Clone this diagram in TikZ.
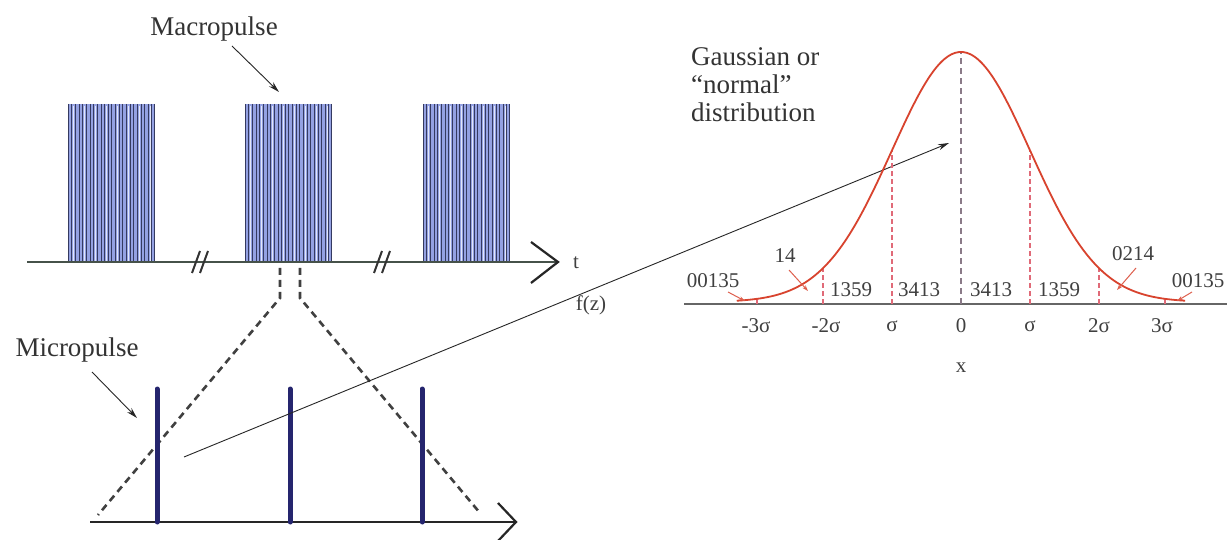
\documentclass[tikz,border=0pt]{standalone}
\usepackage{fontspec}
\setmainfont{Liberation Serif}
\usetikzlibrary{arrows.meta}
\definecolor{pulseblue}{HTML}{7082D8}
\definecolor{pulsedark}{HTML}{353A60}
\definecolor{axisgray}{HTML}{46524A}
\definecolor{microblue}{HTML}{25256E}
\definecolor{gausred}{HTML}{D8432E}
\definecolor{dashred}{HTML}{E06A78}
\definecolor{dashgray}{HTML}{8A7A88}
\tikzset{
  biglabel/.style={font=\fontsize{27}{28}\selectfont, inner sep=0pt, text=black!80},
  numlabel/.style={font=\fontsize{21}{22}\selectfont, inner sep=0pt, text=black!75},
  axisline/.style={line width=2.6pt, draw=axisgray},
  chevron/.style={line width=2.2pt, draw=black!85},
  pulsedash/.style={line width=2.6pt, draw=black!75, dash pattern=on 7pt off 5pt},
  micro/.style={line width=5pt, draw=microblue, line cap=round},
  pointer/.style={line width=0.9pt, draw=black!85, -{Stealth[length=11pt,width=6pt]}},
  redpointer/.style={line width=1pt, draw=gausred!85, -{Stealth[length=6pt,width=4pt]}},
  reddash/.style={line width=1.1pt, draw=dashred, dash pattern=on 5pt off 3pt},
  graydash/.style={line width=1.3pt, draw=dashgray, dash pattern=on 6pt off 4pt},
}
\begin{document}
\begin{tikzpicture}[x=1pt,y=-1pt]
\useasboundingbox (0,0) rectangle (1227,540);
\fill[white] (0,0) rectangle (1227,540);

% ---------- macropulse trains ----------
\foreach \xo in {68,245,423}{
  \fill[pulseblue!75] (\xo,104) rectangle (\xo+86,262);
  \foreach \d in {0,3.6,7.4,11,14.5,18.3,22,25.4,29.2,33,36.5,40,43.8,47.5,51,54.8,58.5,62,65.6,69.4,73,76.5,80.2,83.5,86}{
    \draw[pulsedark, line width=0.75pt] (\xo+\d,104) -- (\xo+\d,262);
  }
  \foreach \d in {5.5,16.4,27.3,38.2,49.3,60.3,71.2,82}{
    \draw[white!80!pulseblue, line width=0.7pt] (\xo+\d,106) -- (\xo+\d,262);
  }
}

% top time axis
\coordinate (tstart) at (27,262);
\coordinate (ttip) at (558,262);
\draw[axisline] (tstart) -- (ttip);
\draw[chevron] (531,242) -- (ttip) -- (531,283);
\node[numlabel] (tlab) at (576,263) {t};
% break marks
\foreach \bx in {196,204,378,386}{
  \draw[line width=2pt, draw=black!80] (\bx-4,273) -- (\bx+4,251);
}

% labels
\node[biglabel] (macro) at (214,29) {Macropulse};
\coordinate (macrotip) at (279,92);
\draw[pointer] (232,46) -- (macrotip);

% dashed zoom lines
\coordinate (dl0) at (280,268);
\coordinate (dl1) at (280,298);
\coordinate (dl2) at (98,515);
\coordinate (dr0) at (300,268);
\coordinate (dr1) at (300,298);
\coordinate (dr2) at (480,513);
\draw[pulsedash] (dl0) -- (dl1) -- (dl2);
\draw[pulsedash] (dr0) -- (dr1) -- (dr2);

% micro axis
\coordinate (mstart) at (90,522);
\coordinate (mtip) at (516,522);
\draw[line width=2.2pt, draw=black!85] (mstart) -- (mtip);
\draw[chevron] (498,503) -- (mtip) -- (498,541);

% micropulses
\foreach \mx in {157,290,422}{
  \draw[micro] (\mx,389) -- (\mx,522);
}

\node[biglabel] (microlab) at (77,350) {Micropulse};
\draw[pointer] (92,372) -- (137,418);

% long arrow
\coordinate (lstart) at (184,457);
\coordinate (lend) at (949,143);
\draw[pointer] (lstart) -- (lend);
\node[numlabel] (fz) at (591,305) {f(z)};

% ---------- Gaussian ----------
\node[biglabel, anchor=north west, align=left] (gauss) at (691,47)
  {Gaussian or\\``normal''\\distribution};

\draw[line width=1.6pt, draw=black!60] (684,304) -- (1227,304);

% dashed verticals
\draw[graydash] (961,304) -- (961,52);
\draw[reddash] (892,304) -- (892,150);
\draw[reddash] (1030,304) -- (1030,150);
\draw[reddash] (823,304) -- (823,268);
\draw[reddash] (1099,304) -- (1099,268);
\draw[reddash] (757,304) -- (757,297);
\draw[reddash] (1165,304) -- (1165,297);

% curve
\draw[line width=1.8pt, draw=gausred] plot[domain=-3.25:3.25, samples=120, smooth]
  ({961+69*\x}, {302-250*exp(-\x*\x/2)});

% numbers
\node[numlabel] (n1) at (713,281) {00135};
\node[numlabel] (n2) at (785,256) {14};
\node[numlabel] (n3) at (851,290) {1359};
\node[numlabel] (n4) at (919,290) {3413};
\node[numlabel] (n5) at (991,290) {3413};
\node[numlabel] (n6) at (1059,290) {1359};
\node[numlabel] (n7) at (1133,254) {0214};
\node[numlabel] (n8) at (1198,281) {00135};

\draw[redpointer] (728,292) -- (745,301);
\draw[redpointer] (789,270) -- (808,291);
\draw[redpointer] (1136,268) -- (1117,290);
\draw[redpointer] (1192,292) -- (1177,301);

% sigma labels
\node[numlabel] (s1) at (756,326) {-3σ};
\node[numlabel] (s2) at (826,326) {-2σ};
\node[numlabel] (s3) at (892,326) {σ};
\node[numlabel] (s4) at (961,326) {0};
\node[numlabel] (s5) at (1030,326) {σ};
\node[numlabel] (s6) at (1099,326) {2σ};
\node[numlabel] (s7) at (1162,326) {3σ};
\node[numlabel] (xlab) at (961,368) {x};
\end{tikzpicture}
\end{document}
